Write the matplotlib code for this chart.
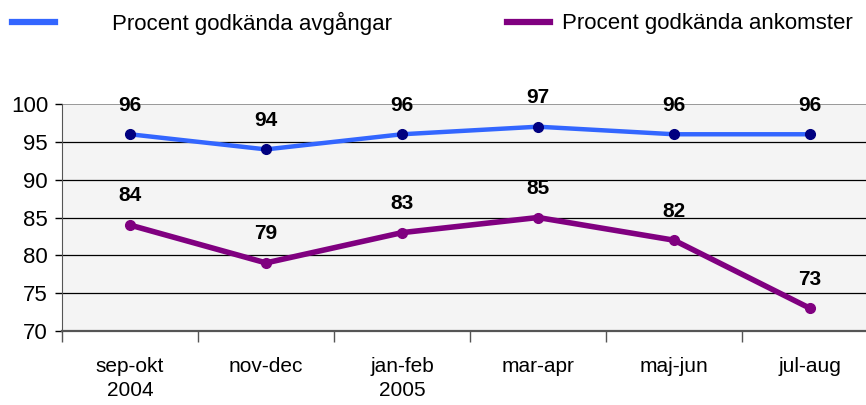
import matplotlib.pyplot as plt
from matplotlib.lines import Line2D

plt.rcParams["font.family"] = ["Liberation Sans", "DejaVu Sans"]

# data
periods = ["sep-okt\n2004", "nov-dec", "jan-feb\n2005", "mar-apr", "maj-jun", "jul-aug"]
avgangar = [96, 94, 96, 97, 96, 96]
ankomster = [84, 79, 83, 85, 82, 73]
series_names = ["Procent godkända avgångar", "Procent godkända ankomster"]
yticks = [70, 75, 80, 85, 90, 95, 100]

W, H = 866, 405
fig = plt.figure(figsize=(W / 100, H / 100), dpi=100)
# plot area runs a little past the right edge of the figure, as in the original
ax = fig.add_axes([62 / W, (H - 331) / H, 816 / W, 227 / H])
ax.set_facecolor("#f4f4f4")

x = list(range(len(periods)))
ax.plot(x, avgangar, color="#3366ff", lw=3.2, marker="o", ms=7,
        mfc="#000080", mec="#000080", zorder=3)
ax.plot(x, ankomster, color="#800080", lw=4, marker="o", ms=7,
        mfc="#800080", mec="#800080", zorder=3)

for xs, ys in [(x, avgangar), (x, ankomster)]:
    for xi, yi in zip(xs, ys):
        ax.annotate(str(yi), (xi, yi), xytext=(0, 21), textcoords="offset points",
                    ha="center", va="center", fontsize=15, fontweight="bold")

ax.set_xlim(-0.5, len(periods) - 0.5)
ax.set_ylim(70, 100)
ax.set_yticks(yticks)
ax.tick_params(axis="y", labelsize=16, length=5, width=1, pad=5)
for t in yticks[1:-1]:
    ax.axhline(t, color="black", lw=0.9, zorder=1)
ax.axhline(100, color="#888888", lw=1.2, zorder=1)

# ticks between categories, labels centred on them
ax.set_xticks([i - 0.5 for i in range(len(periods) + 1)])
ax.set_xticklabels([])
ax.set_xticks(x, minor=True)
ax.set_xticklabels(periods, minor=True, fontsize=15, linespacing=1.3)
ax.tick_params(axis="x", which="major", length=8, width=1, color="#555555")
ax.tick_params(axis="x", which="minor", length=0, pad=19)

for s in ["top", "right"]:
    ax.spines[s].set_visible(False)
ax.spines["left"].set_color("#555555")
ax.spines["bottom"].set_color("#555555")
ax.spines["bottom"].set_linewidth(1.6)

# legend drawn by hand at the top
fig.add_artist(Line2D([12 / W, 55 / W], [1 - 22 / H] * 2, color="#3366ff", lw=4.5))
fig.text(112 / W, 1 - 23 / H, series_names[0], fontsize=16, va="center")
fig.add_artist(Line2D([507 / W, 550 / W], [1 - 22 / H] * 2, color="#800080", lw=4.5))
fig.text(562 / W, 1 - 23 / H, series_names[1], fontsize=16, va="center")

fig.savefig("out.png", dpi=100)
